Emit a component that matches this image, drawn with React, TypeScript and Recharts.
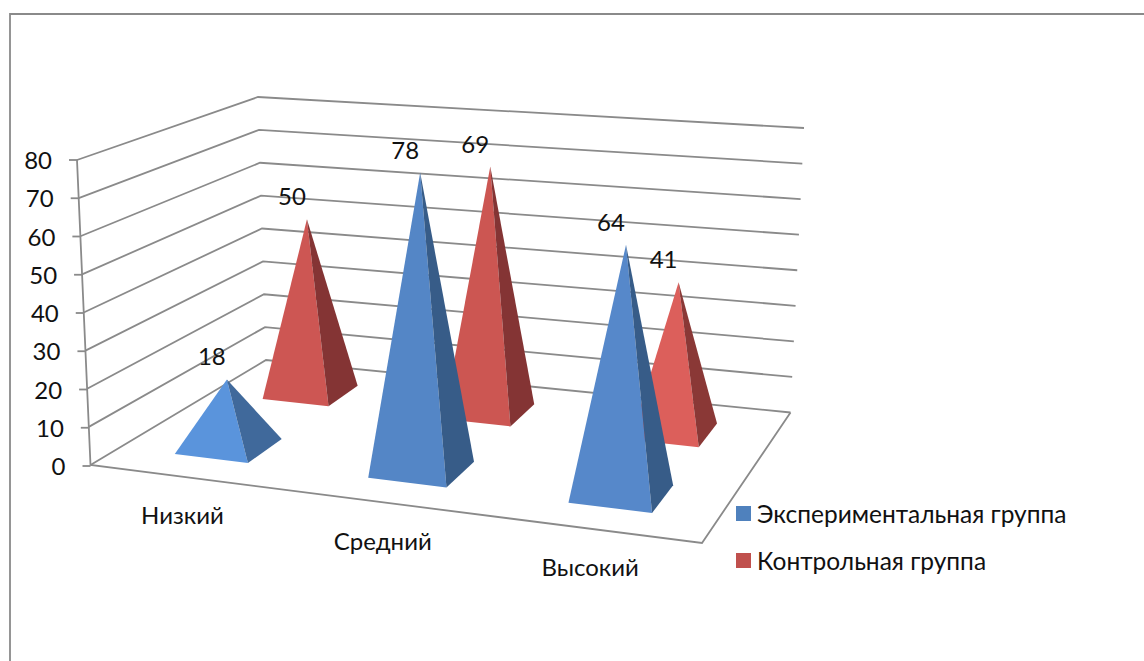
import React from 'react';
import { ComposedChart, Bar, XAxis, YAxis, Legend, Customized } from 'recharts';

const categories = ['Низкий', 'Средний', 'Высокий'];
const experimental = [18, 78, 64];
const control = [50, 69, 41];
const valueTicks = [0, 10, 20, 30, 40, 50, 60, 70, 80];
const seriesNames = ['Экспериментальная группа', 'Контрольная группа'];

const rows = categories.map((name, i) => ({ name, exp: experimental[i], ctl: control[i] }));

const W = 1144, H = 661;
const PLOT = { left: 80, right: 690, top: 160, bottom: 465 };
const PLOT_W = PLOT.right - PLOT.left;
const PLOT_H = PLOT.bottom - PLOT.top;
const MAX = 80;
const FONT = 'Lato, "Open Sans", sans-serif';
const FONT_SIZE = 24;
const LINE = '#8a8a8a';
const INK = '#111';

// floor corners and the height of the walls at each corner of the 3D box
const FL = { x: 90.5, y: 465, h: 305, dx: -13.5 };
const FR = { x: 702, y: 543, h: 325, dx: 8 };
const BL = { x: 266, y: 360, h: 263, dx: -8 };
const BR = { x: 790.5, y: 412.5, h: 284.5, dx: 13.5 };

const mix = (a: number, b: number, t: number) => a + (b - a) * t;
const bi = (k: 'x' | 'y' | 'h' | 'dx', u: number, v: number) =>
  mix(mix(FL[k], FR[k], u), mix(BL[k], BR[k], u), v);

function project(u: number, v: number, frac: number) {
  return {
    x: bi('x', u, v) + bi('dx', u, v) * frac,
    y: bi('y', u, v) - bi('h', u, v) * frac,
  };
}
// perspective foreshortening along the floor
const warp = (u: number) => u - 0.052 * u * (1 - u);
const pts = (list: { x: number; y: number }[]) => list.map((p) => `${p.x},${p.y}`).join(' ');

const SERIES_LOOK: Record<string, any> = {
  exp: {
    depth: 0.25, sideRatio: 1.65, grow: 0.2, shift: { x: -1.5, y: -2.5 },
    front: ['#5a94dc', '#5486c6', '#5688ca'],
    side: ['#40699b', '#375c88', '#375c88'],
  },
  ctl: {
    depth: 0.75, sideRatio: 1.42, grow: 0.05, shift: { x: -0.5, y: -2 },
    front: ['#cd5653', '#cc5652', '#dc5f5b'],
    side: ['#843434', '#843434', '#8a3836'],
  },
};

const pyramid = (key: string) => (props: any) => {
  const { x, width, height, value, index } = props;
  const look = SERIES_LOOK[key];
  const u = warp((x + width / 2 - PLOT.left) / PLOT_W);
  const du = ((width / PLOT_W) * (0.9 + look.grow * u)) / 2;
  const dv = ((width / PLOT_W) * look.sideRatio) / 2;
  const v = look.depth + 0.01;
  const move = (p: { x: number; y: number }) => ({ x: p.x + look.shift.x, y: p.y + look.shift.y });
  const a = move(project(u - du, v - dv, 0));
  const b = move(project(u + du, v - dv, 0));
  const c = move(project(u + du, v + dv, 0));
  const apex = move(project(u, v, height / PLOT_H));
  return (
    <g>
      <polygon points={pts([a, b, apex])} fill={look.front[index]} />
      <polygon points={pts([b, c, apex])} fill={look.side[index]} />
      <text x={apex.x - 15} y={apex.y - 14} textAnchor="middle" fontFamily={FONT} fontSize={FONT_SIZE} fill={INK}>
        {value}
      </text>
    </g>
  );
};

function Frame() {
  const corner = (u: number, v: number, f: number) => project(u, v, f);
  return (
    <g fill="none" stroke={LINE} strokeWidth={1.8}>
      <polyline points={`10,661 10,14 ${W},14`} strokeWidth={1.8} />
      {valueTicks.map((t) => (
        <polyline
          key={t}
          points={pts([corner(0, 0, t / MAX), corner(0, 1, t / MAX), corner(1, 1, t / MAX)])}
        />
      ))}
      <polyline points={pts([corner(0, 0, 1), corner(0, 0, 0), corner(1, 0, 0), corner(1, 1, 0)])} />
    </g>
  );
}

const YTick = (props: any) => {
  const value = props.payload.value;
  const p = project(0, 0, value / MAX);
  return (
    <g>
      <line x1={p.x - 8} x2={p.x} y1={props.y} y2={props.y} stroke={LINE} strokeWidth={1.8} />
      <text x={p.x - 25} y={props.y + 9} textAnchor="end" fontFamily={FONT} fontSize={FONT_SIZE} fill={INK}>
        {value}
      </text>
    </g>
  );
};

const XTick = (props: any) => {
  const i = categories.indexOf(props.payload.value);
  const u = warp((i + 0.5) / categories.length);
  const p = project(u, 0, 0);
  return (
    <text x={p.x - 5.5} y={p.y + 47} textAnchor="middle" fontFamily={FONT} fontSize={FONT_SIZE} fill={INK}>
      {props.payload.value}
    </text>
  );
};

const LEGEND_COLORS = ['#4f81bd', '#c0504d'];
const LegendBox = () => (
  <div style={{ fontFamily: FONT, fontSize: 24.5, color: INK }}>
    {seriesNames.map((n, i) => (
      <div key={n} style={{ display: 'flex', alignItems: 'center', height: 47, whiteSpace: 'nowrap' }}>
        <span style={{ width: 15, height: 15, background: LEGEND_COLORS[i], marginRight: 6, display: 'inline-block' }} />
        {n}
      </div>
    ))}
  </div>
);

export default function App() {
  return (
    <div style={{ position: 'absolute', left: 0, top: 0, width: W, height: H, background: '#fff', overflow: 'hidden' }}>
      <ComposedChart
        width={W}
        height={H}
        data={rows}
        margin={{ left: 10, top: PLOT.top, right: W - PLOT.right, bottom: 51 }}
        barSize={80}
        barGap={-80}
      >
        <Customized component={Frame} />
        <XAxis dataKey="name" height={50} axisLine={false} tickLine={false} tick={XTick} interval={0} />
        <YAxis width={70} domain={[0, MAX]} ticks={valueTicks} axisLine={false} tickLine={false} tick={YTick} />
        <Bar dataKey="ctl" name={seriesNames[1]} shape={pyramid('ctl')} isAnimationActive={false} />
        <Bar dataKey="exp" name={seriesNames[0]} shape={pyramid('exp')} isAnimationActive={false} />
        <Legend
          content={LegendBox}
          layout="vertical"
          wrapperStyle={{ position: 'absolute', left: 736, top: 490, width: 400, height: 94 }}
        />
      </ComposedChart>
    </div>
  );
}
